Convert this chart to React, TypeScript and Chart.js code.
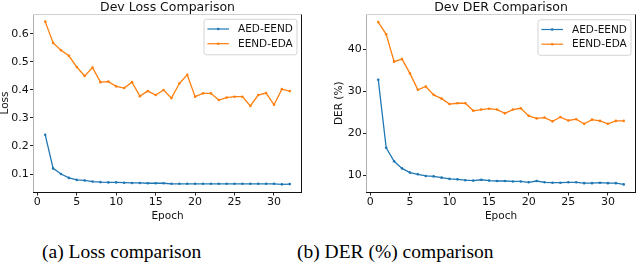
import React, { useEffect, useRef } from 'react';
import { Chart, registerables } from 'chart.js';

Chart.register(...registerables);

// ---------- data ----------
const epochs = [1, 2, 3, 4, 5, 6, 7, 8, 9, 10, 11, 12, 13, 14, 15, 16, 17, 18, 19, 20, 21, 22, 23, 24, 25, 26, 27, 28, 29, 30, 31, 32];
const seriesNames = ['AED-EEND', 'EEND-EDA'];
const seriesColors = ['#1f77b4', '#ff7f0e'];

const lossAED = [0.240, 0.120, 0.100, 0.086, 0.079, 0.077, 0.073, 0.071, 0.070, 0.070, 0.069, 0.068, 0.068, 0.067, 0.067, 0.067, 0.065, 0.065, 0.065, 0.065, 0.065, 0.065, 0.065, 0.065, 0.065, 0.065, 0.065, 0.065, 0.065, 0.065, 0.063, 0.064];
const lossEDA = [0.644, 0.568, 0.542, 0.522, 0.482, 0.450, 0.480, 0.428, 0.430, 0.413, 0.407, 0.428, 0.378, 0.396, 0.382, 0.400, 0.371, 0.423, 0.454, 0.376, 0.388, 0.388, 0.364, 0.373, 0.376, 0.376, 0.343, 0.382, 0.389, 0.347, 0.403, 0.396];

const derAED = [32.7, 16.5, 13.3, 11.6, 10.6, 10.2, 9.8, 9.7, 9.4, 9.1, 9.0, 8.8, 8.7, 8.9, 8.7, 8.6, 8.6, 8.5, 8.5, 8.3, 8.6, 8.3, 8.2, 8.2, 8.3, 8.3, 8.1, 8.1, 8.2, 8.1, 8.1, 7.8];
const derEDA = [46.4, 43.5, 37.0, 37.6, 34.2, 30.3, 31.1, 29.1, 28.2, 26.9, 27.1, 27.1, 25.3, 25.6, 25.8, 25.6, 24.7, 25.6, 25.9, 24.1, 23.5, 23.7, 22.8, 23.8, 23.0, 23.3, 22.2, 23.2, 22.9, 22.2, 22.9, 22.9];

const xTickValues = [0, 5, 10, 15, 20, 25, 30];
const lossTickValues = [0.1, 0.2, 0.3, 0.4, 0.5, 0.6];
const derTickValues = [10, 20, 30, 40];

const FONT = 'DejaVu Sans';

function padRange(vals: number[]): [number, number] {
  const mn = Math.min(...vals);
  const mx = Math.max(...vals);
  const m = (mx - mn) * 0.05;
  return [mn - m, mx + m];
}

type PanelProps = {
  title: string;
  yLabel: string;
  a: number[];
  b: number[];
  yTicks: number[];
  yFmt: (v: number) => string;
  yWidth: number;
  yTitlePad: number;
  padRight: number;
  padTop: number;
  plotBottom: number;
  left: number;
};

const W = 320;
const H = 226;

function Panel(p: PanelProps) {
  const ref = useRef<HTMLCanvasElement | null>(null);
  useEffect(() => {
    const canvas = ref.current;
    if (!canvas) return;
    const [xmin, xmax] = padRange(epochs);
    const [ymin, ymax] = padRange([...p.a, ...p.b]);

    const framePlugin = {
      id: 'frame',
      afterDraw(chart: any) {
        const ctx = chart.ctx;
        const ca = chart.chartArea;
        ctx.save();
        const L = Math.round(ca.left) + 0.5;
        const R = Math.round(ca.right) - 0.5;
        const T = Math.round(ca.top) + 0.5;
        const B = Math.round(ca.bottom) - 0.5;
        ctx.lineWidth = 1;
        ctx.strokeStyle = '#b0b0b0';
        ctx.beginPath(); ctx.moveTo(L, T); ctx.lineTo(L, B); ctx.stroke();
        ctx.strokeStyle = '#d0d0d0';
        ctx.beginPath(); ctx.moveTo(L, T); ctx.lineTo(R, T); ctx.stroke();
        ctx.strokeStyle = '#111';
        ctx.beginPath(); ctx.moveTo(R, T); ctx.lineTo(R, B + 0.5); ctx.stroke();
        ctx.beginPath(); ctx.moveTo(L - 0.5, B); ctx.lineTo(R + 0.5, B); ctx.stroke();

        // legend
        const bw = 93;
        const bh = 35.5;
        const bx = ca.right - 5 - bw;
        const by = ca.top + 5.8;
        const r = 2.5;
        ctx.beginPath();
        ctx.moveTo(bx + r, by);
        ctx.lineTo(bx + bw - r, by);
        ctx.quadraticCurveTo(bx + bw, by, bx + bw, by + r);
        ctx.lineTo(bx + bw, by + bh - r);
        ctx.quadraticCurveTo(bx + bw, by + bh, bx + bw - r, by + bh);
        ctx.lineTo(bx + r, by + bh);
        ctx.quadraticCurveTo(bx, by + bh, bx, by + bh - r);
        ctx.lineTo(bx, by + r);
        ctx.quadraticCurveTo(bx, by, bx + r, by);
        ctx.closePath();
        ctx.fillStyle = 'rgba(255,255,255,0.85)';
        ctx.fill();
        ctx.strokeStyle = '#d4d4d4';
        ctx.stroke();
        chart.data.datasets.forEach((ds: any, i: number) => {
          const y = by + 9.7 + i * 14.7;
          ctx.strokeStyle = ds.borderColor;
          ctx.lineWidth = 1.2;
          ctx.beginPath(); ctx.moveTo(bx + 3.4, y); ctx.lineTo(bx + 25, y); ctx.stroke();
          ctx.fillStyle = ds.borderColor;
          ctx.beginPath(); ctx.arc(bx + 14.2, y, 1.3, 0, Math.PI * 2); ctx.fill();
          ctx.fillStyle = '#111';
          ctx.font = `10.5px "${FONT}"`;
          ctx.textAlign = 'left';
          ctx.textBaseline = 'middle';
          ctx.fillText(ds.label, bx + 34, y + 0.5);
        });

        // title
        ctx.fillStyle = '#111';
        ctx.font = `12.5px "${FONT}"`;
        ctx.textAlign = 'center';
        ctx.textBaseline = 'alphabetic';
        ctx.fillText(p.title, (ca.left + ca.right) / 2, 10.5);
        ctx.restore();
      },
    };

    const mk = (vals: number[], i: number) => ({
      label: seriesNames[i],
      data: epochs.map((e, k) => ({ x: e, y: vals[k] })),
      borderColor: seriesColors[i],
      backgroundColor: seriesColors[i],
      pointBackgroundColor: seriesColors[i],
      borderWidth: 1.3,
      pointRadius: 1.3,
      pointBorderWidth: 0,
      pointHoverRadius: 0,
      tension: 0,
      fill: false,
    });

    const chart = new Chart(canvas, {
      type: 'line',
      data: { datasets: [mk(p.a, 0), mk(p.b, 1)] },
      options: {
        animation: false,
        responsive: false,
        maintainAspectRatio: false,
        events: [],
        layout: { padding: { left: 0, top: p.padTop, right: p.padRight, bottom: 0 } },
        plugins: {
          legend: { display: false },
          tooltip: { enabled: false },
          title: { display: false },
        },
        scales: {
          x: {
            type: 'linear',
            min: xmin,
            max: xmax,
            afterBuildTicks: (s: any) => {
              s.ticks = xTickValues.map((v) => ({ value: v }));
            },
            afterFit: (s: any) => {
              s.height = H - p.plotBottom;
            },
            ticks: {
              autoSkip: false,
              maxRotation: 0,
              padding: 1.5,
              color: '#111',
              font: { family: FONT, size: 11, lineHeight: 1 },
              callback: (v: any) => String(v),
            },
            grid: { display: true, drawOnChartArea: false, drawTicks: true, tickLength: 3, color: '#222' },
            border: { display: false },
            title: {
              display: true,
              text: 'Epoch',
              color: '#111',
              font: { family: FONT, size: 10.5, lineHeight: 1 },
              padding: { top: 0, bottom: 4.75 },
            },
          },
          y: {
            type: 'linear',
            min: ymin,
            max: ymax,
            afterBuildTicks: (s: any) => {
              s.ticks = p.yTicks.map((v) => ({ value: v }));
            },
            afterFit: (s: any) => {
              s.width = p.yWidth;
            },
            ticks: {
              autoSkip: false,
              padding: 1.3,
              color: '#111',
              font: { family: FONT, size: 11, lineHeight: 1 },
              callback: (v: any) => p.yFmt(Number(v)),
            },
            grid: { display: true, drawOnChartArea: false, drawTicks: true, tickLength: 3, color: '#222' },
            border: { display: false },
            title: {
              display: true,
              text: p.yLabel,
              color: '#111',
              font: { family: FONT, size: 10.5, lineHeight: 1 },
              padding: { top: p.yTitlePad, bottom: 0 },
            },
          },
        },
      },
      plugins: [framePlugin],
    } as any);
    return () => chart.destroy();
  }, []);

  return (
    <canvas
      ref={ref}
      width={W}
      height={H}
      style={{ position: 'absolute', left: p.left, top: 0, width: W, height: H }}
    />
  );
}

const captionStyle: React.CSSProperties = {
  position: 'absolute',
  top: 241.5,
  fontFamily: '"Liberation Serif", "Times New Roman", serif',
  fontSize: 19.5,
  lineHeight: 1,
  whiteSpace: 'nowrap',
  color: '#000',
};

export default function App() {
  return (
    <div style={{ position: 'absolute', left: 0, top: 0, width: 640, height: 274, background: '#fff', overflow: 'hidden' }}>
      <Panel
        title="Dev Loss Comparison"
        yLabel="Loss"
        a={lossAED}
        b={lossEDA}
        yTicks={lossTickValues}
        yFmt={(v) => v.toFixed(1)}
        yWidth={33}
        yTitlePad={0}
        padRight={18}
        padTop={13.5}
        plotBottom={192.5}
        left={0}
      />
      <Panel
        title="Dev DER Comparison"
        yLabel="DER (%)"
        a={derAED}
        b={derEDA}
        yTicks={derTickValues}
        yFmt={(v) => String(Math.round(v))}
        yWidth={46}
        yTitlePad={14}
        padRight={4}
        padTop={14}
        plotBottom={192.5}
        left={320}
      />
      <div style={{ ...captionStyle, left: 42 }}>(a) Loss comparison</div>
      <div style={{ ...captionStyle, left: 297 }}>(b) DER (%) comparison</div>
    </div>
  );
}
